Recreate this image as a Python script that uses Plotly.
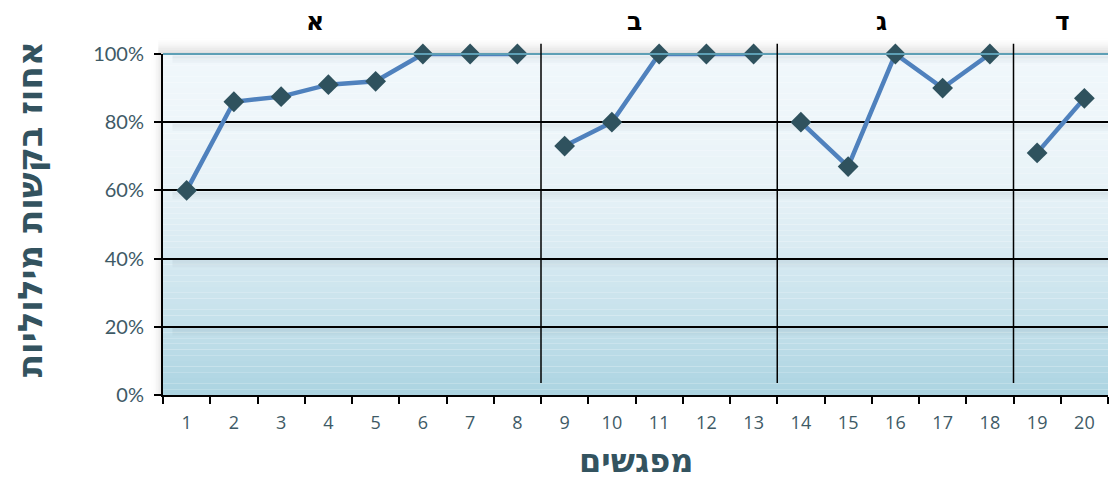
import plotly.graph_objects as go

sessions = [str(i) for i in range(1, 21)]
values = [60, 86, 87.5, 91, 92, 100, 100, 100,
          73, 80, 100, 100, 100,
          80, 67, 100, 90, 100,
          71, 87]
phase_of = ["א"] * 8 + ["ב"] * 5 + ["ג"] * 5 + ["ד"] * 2
phase_labels = ["א", "ב", "ג", "ד"]
y_ticks = [0, 20, 40, 60, 80, 100]
y_tick_text = ["0%", "20%", "40%", "60%", "80%", "100%"]
y_title = "אחוז בקשות מילוליות"
x_title = "מפגשים"

fig = go.Figure()

# one trace per phase so the line breaks between phases
for ph in phase_labels:
    xs = [s for s, p in zip(sessions, phase_of) if p == ph]
    ys = [v for v, p in zip(values, phase_of) if p == ph]
    fig.add_trace(go.Scatter(
        x=xs, y=ys, mode="lines+markers",
        line=dict(color="#4f81bd", width=4.5),
        marker=dict(symbol="diamond", size=16, color="#2f525e",
                    line=dict(width=0)),
        cliponaxis=False, showlegend=False, hoverinfo="skip"))

shapes = []
# background gradient
stops = [(0.0, (171, 211, 225)), (0.2, (195, 224, 234)), (0.4, (214, 233, 241)),
         (0.6, (231, 242, 247)), (0.8, (238, 246, 250)), (1.0, (240, 247, 251))]
n = 60
for i in range(n):
    t = (i + 0.5) / n
    for (a, ca), (b, cb) in zip(stops[:-1], stops[1:]):
        if a <= t <= b:
            f = (t - a) / (b - a)
            c = tuple(round(ca[k] + (cb[k] - ca[k]) * f) for k in range(3))
            break
    shapes.append(dict(type="rect", xref="paper", yref="paper",
                       x0=0, x1=1, y0=i / n, y1=(i + 1) / n,
                       fillcolor="rgb(%d,%d,%d)" % c, line=dict(width=0),
                       layer="below"))
# soft shadows under gridlines
for gv in [20, 40, 60, 80, 100]:
    for k, op in enumerate([0.07, 0.05, 0.03]):
        shapes.append(dict(type="line", xref="paper", yref="y",
                           x0=0.01, x1=1, y0=gv - 0.8 - k * 0.7, y1=gv - 0.8 - k * 0.7,
                           line=dict(color="rgba(60,70,80,%.2f)" % op, width=2.5),
                           layer="below"))
# shadow above plot area
for k in range(8):
    shapes.append(dict(type="rect", xref="paper", yref="paper",
                       x0=-0.005, x1=1, y0=1 + k * 0.006, y1=1 + (k + 1) * 0.006,
                       fillcolor="rgba(90,90,90,%.3f)" % (0.2 * (1 - k / 8) ** 2),
                       line=dict(width=0), layer="below"))
# shadow left of plot area
for k in range(6):
    shapes.append(dict(type="rect", xref="paper", yref="paper",
                       x0=-0.002 - (k + 1) * 0.0018, x1=-0.002 - k * 0.0018, y0=0, y1=1,
                       fillcolor="rgba(90,90,90,%.3f)" % (0.12 * (1 - k / 6) ** 2),
                       line=dict(width=0), layer="below"))
# top teal border
shapes.append(dict(type="line", xref="paper", yref="paper", x0=0, x1=1, y0=1, y1=1,
                   line=dict(color="#5d9fb5", width=2)))
# phase dividers
for xb in [7.5, 12.5, 17.5]:
    shapes.append(dict(type="line", xref="x", yref="paper", x0=xb, x1=xb,
                       y0=0.035, y1=1.03, line=dict(color="black", width=1.5)))

annotations = []
phase_pos = [2.71, 9.47, 14.7, 18.54]
for ph, xp in zip(phase_labels, phase_pos):
    annotations.append(dict(x=xp, y=1.094, xref="x", yref="paper", text="<b>%s</b>" % ph,
                            showarrow=False, xanchor="center", yanchor="middle",
                            font=dict(family="DejaVu Sans", size=25, color="black")))
annotations.append(dict(x=-0.1407, y=0.545, xref="paper", yref="paper",
                        text="<b>%s</b>" % y_title, textangle=-90, showarrow=False,
                        xanchor="center", yanchor="middle",
                        font=dict(family="DejaVu Sans", size=34, color="#33535f")))
annotations.append(dict(x=0.5, y=-0.193, xref="paper", yref="paper",
                        text="<b>%s</b>" % x_title, showarrow=False,
                        xanchor="center", yanchor="middle",
                        font=dict(family="DejaVu Sans", size=32, color="#33535f")))

fig.update_layout(
    width=1109, height=479,
    margin=dict(l=163, r=1, t=54, b=84),
    paper_bgcolor="white", plot_bgcolor="rgba(0,0,0,0)",
    shapes=shapes, annotations=annotations,
    xaxis=dict(type="category", categoryorder="array", categoryarray=sessions,
               range=[-0.5, 19.5], tickson="boundaries", ticks="outside", ticklen=7,
               tickwidth=2, tickcolor="black", showline=True, linecolor="black",
               linewidth=2, showgrid=False, ticklabelstandoff=10,
               tickfont=dict(family="Open Sans", size=18, color="#3e5a66")),
    yaxis=dict(range=[0, 100], tickvals=y_ticks, ticktext=y_tick_text,
               ticks="outside", ticklen=7, tickwidth=2, tickcolor="black",
               showline=True, linecolor="black", linewidth=2,
               showgrid=True, gridcolor="black", gridwidth=1.5, zeroline=False,
               ticklabelstandoff=6,
               tickfont=dict(family="Lato", size=20, color="#3e5a66")),
)

fig.write_html("out.html")
